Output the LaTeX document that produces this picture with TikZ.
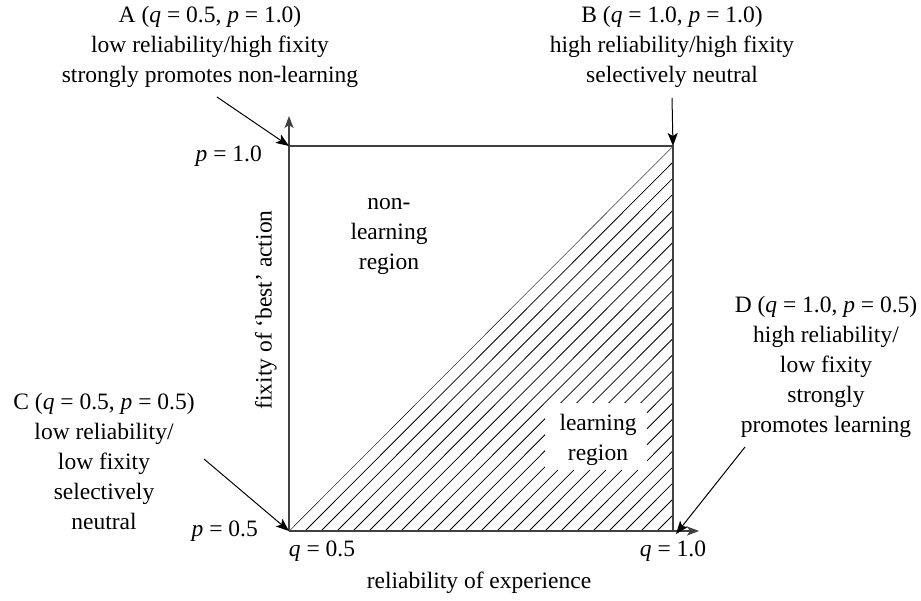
\documentclass[tikz,border=0pt]{standalone}
\usepackage{fontspec}
\setmainfont{Liberation Serif}
\usetikzlibrary{arrows.meta}
\begin{document}
\begin{tikzpicture}[x=1pt,y=-1pt, font=\fontsize{23.5}{30}\selectfont,
  frame/.style={line width=1.4pt, draw=black!75},
  hatchline/.style={line width=0.8pt, draw=black},
  callout/.style={line width=1pt, -{Stealth[length=13pt,width=10pt,inset=3pt]}},
  axisarrow/.style={line width=1.4pt, draw=black!75, -{Stealth[length=12pt,width=9pt,inset=3pt]}},
  lbl/.style={align=center, inner sep=0pt}]
\useasboundingbox (0,0) rectangle (921,600);
\coordinate (C) at (289,531);
\coordinate (D) at (673,531);
\coordinate (A) at (289,146);
\coordinate (B) at (673,146);
% hatching
\begin{scope}
  \clip (C) -- (D) -- (B) -- cycle;
  \foreach \k in {0,16,...,400} {
    \draw[hatchline] (289+\k,531) -- ++(384,-385);
  }
\end{scope}
\node[fill=white, minimum width=102pt, minimum height=67pt, inner sep=0pt] (lbox) at (596,436.5) {};
\node[lbl] (lr) at (598,440) {learning\\region};
\node[lbl] (nlr) at (389,236) {non-\\learning\\region};
% frame
\draw[frame] (A) -- (B) -- (D);
\coordinate (yend) at (289,116);
\coordinate (xend) at (699,531);
\draw[axisarrow] (C) -- (yend);
\draw[axisarrow] (C) -- (xend);
% axis labels
\node[anchor=east, inner sep=0pt] (p1) at (262,156) {\textit{p} = 1.0};
\node[anchor=east, inner sep=0pt] (p05) at (258,531) {\textit{p} = 0.5};
\node[inner sep=0pt] (q05) at (322,551) {\textit{q} = 0.5};
\node[inner sep=0pt] (q1) at (673,551) {\textit{q} = 1.0};
\node[inner sep=0pt] (xl) at (479,583) {reliability of experience};
\node[inner sep=0pt, rotate=90] (yl) at (266,310) {fixity of ‘best’ action};
% corner labels
\node[lbl] (tA) at (210,47) {A (\textit{q} = 0.5, \textit{p} = 1.0)\\low reliability/high fixity\\strongly promotes non-learning};
\node[lbl] (tB) at (672,47) {B (\textit{q} = 1.0, \textit{p} = 1.0)\\high reliability/high fixity\\selectively neutral};
\node[lbl] (tC) at (104,461) {C (\textit{q} = 0.5, \textit{p} = 0.5)\\low reliability/\\low fixity\\selectively\\neutral};
\node[lbl] (tD) at (826,367) {D (\textit{q} = 1.0, \textit{p} = 0.5)\\high reliability/\\low fixity\\strongly\\promotes learning};
\coordinate (sA) at (217,97);
\coordinate (sB) at (672,98);
\coordinate (sC) at (204,459);
\coordinate (sD) at (745,447);
\draw[callout] (sA) -- (A);
\draw[callout] (sB) -- (B);
\draw[callout] (sC) -- (C);
\draw[callout] (sD) -- ([xshift=3pt,yshift=-3pt]D);
\end{tikzpicture}
\end{document}
